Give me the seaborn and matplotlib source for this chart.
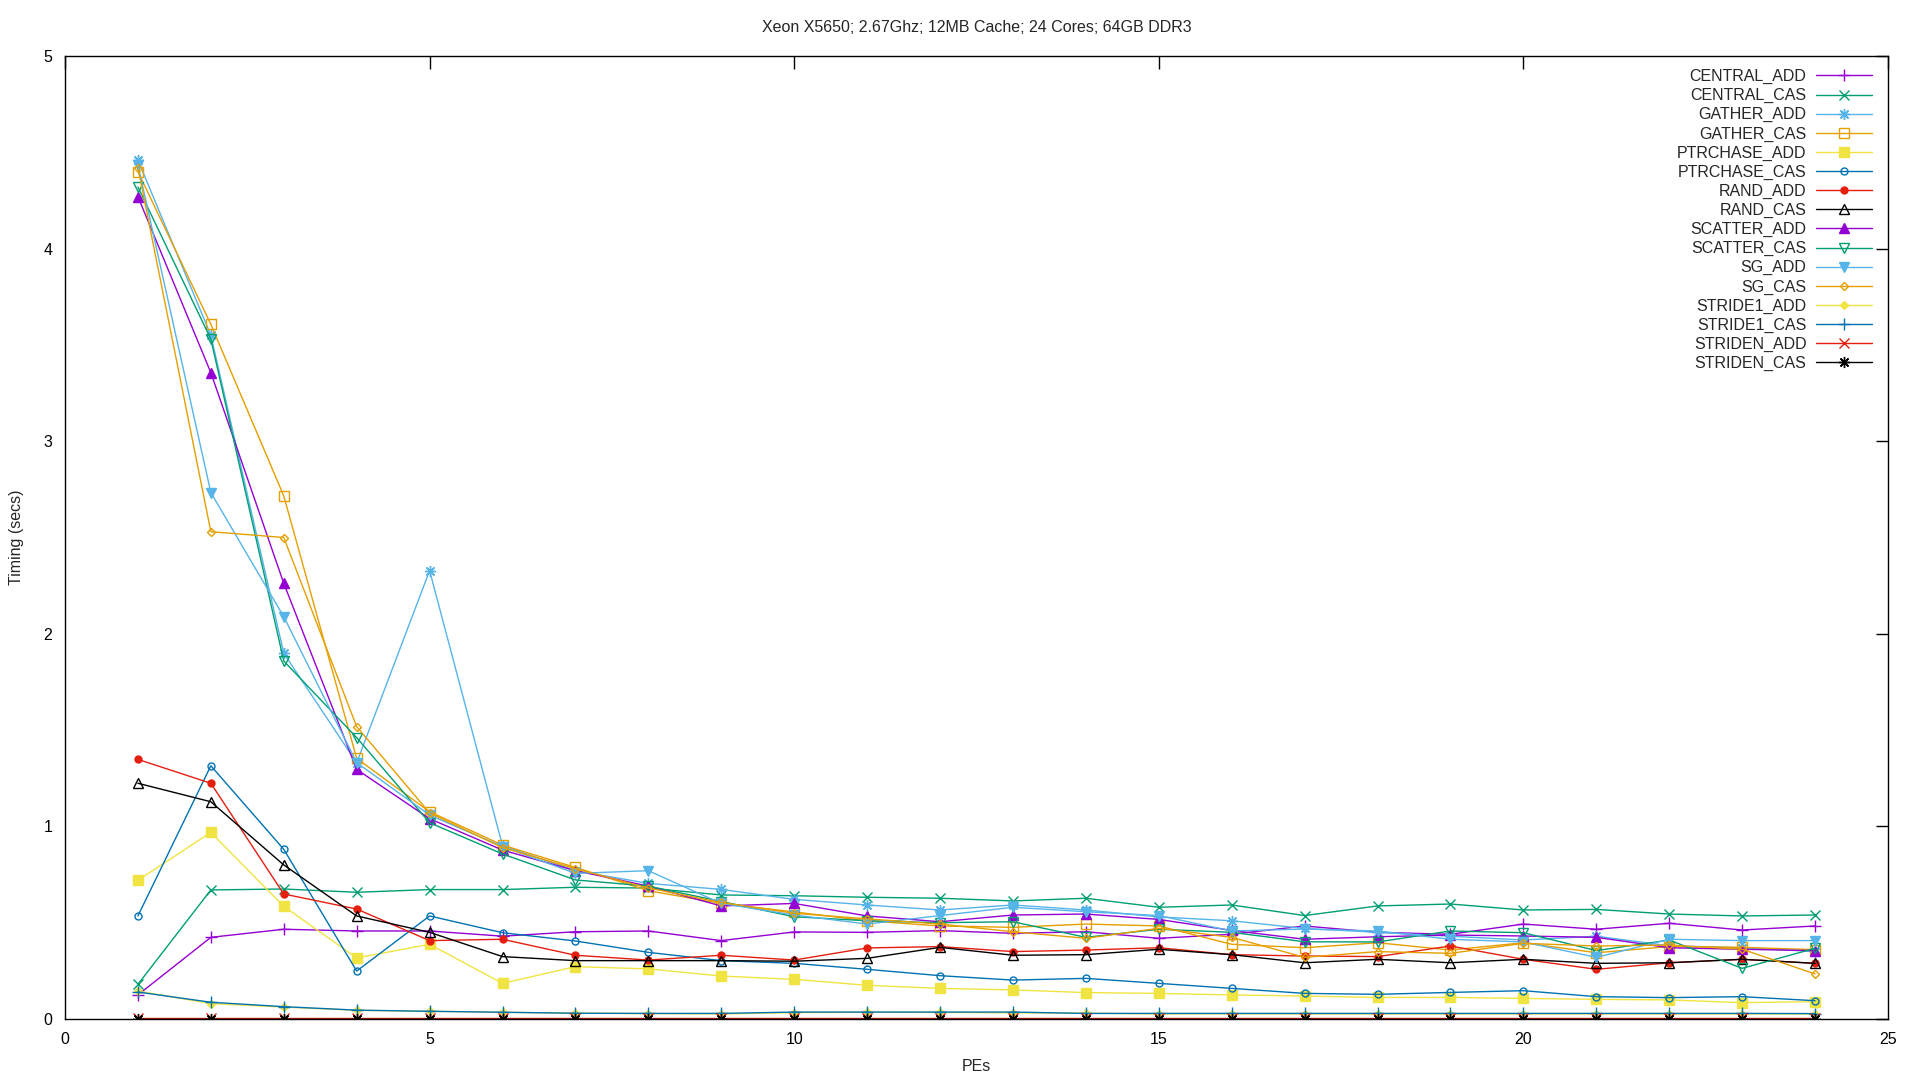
import matplotlib
matplotlib.use("Agg")
import matplotlib.pyplot as plt
import seaborn as sns
import numpy as np

sns.set_style("white")
plt.rcParams['font.family'] = ['Liberation Sans', 'DejaVu Sans']

pes = list(range(1, 25))

central_add = [0.125, 0.424, 0.466, 0.457, 0.457, 0.43, 0.453, 0.457, 0.407, 0.452, 0.45, 0.459,
               0.445, 0.453, 0.419, 0.44, 0.483, 0.45, 0.44, 0.493, 0.466, 0.497, 0.462, 0.483]
central_cas = [0.18, 0.67, 0.675, 0.658, 0.672, 0.672, 0.684, 0.68, 0.644, 0.64, 0.632, 0.627,
               0.613, 0.627, 0.58, 0.592, 0.537, 0.587, 0.597, 0.566, 0.569, 0.545, 0.535, 0.54]
gather_add = [4.46, 3.55, 1.899, 1.33, 2.328, 0.90, 0.77, 0.704, 0.673, 0.621, 0.592, 0.566,
              0.592, 0.566, 0.53, 0.51, 0.47, 0.45, 0.43, 0.41, 0.43, 0.38, 0.37, 0.35]
gather_cas = [4.40, 3.607, 2.716, 1.353, 1.076, 0.903, 0.787, 0.666, 0.60, 0.556, 0.51, 0.483,
              0.476, 0.493, 0.483, 0.388, 0.37, 0.396, 0.358, 0.396, 0.344, 0.376, 0.372, 0.36]
ptrchase_add = [0.72, 0.969, 0.585, 0.317, 0.388, 0.185, 0.272, 0.26, 0.223, 0.206, 0.175, 0.159,
                0.151, 0.137, 0.133, 0.125, 0.119, 0.112, 0.112, 0.107, 0.102, 0.099, 0.085, 0.09]
ptrchase_cas = [0.535, 1.315, 0.881, 0.249, 0.535, 0.448, 0.405, 0.346, 0.303, 0.289, 0.258, 0.225,
                0.202, 0.211, 0.185, 0.159, 0.133, 0.128, 0.138, 0.147, 0.116, 0.111, 0.116, 0.095]
rand_add = [1.348, 1.224, 0.649, 0.571, 0.407, 0.414, 0.331, 0.306, 0.331, 0.306, 0.369, 0.376,
            0.35, 0.358, 0.37, 0.334, 0.327, 0.324, 0.379, 0.31, 0.258, 0.292, 0.31, 0.289]
rand_cas = [1.224, 1.128, 0.80, 0.535, 0.45, 0.324, 0.303, 0.303, 0.303, 0.30, 0.315, 0.372,
            0.331, 0.334, 0.362, 0.334, 0.292, 0.31, 0.292, 0.31, 0.289, 0.292, 0.31, 0.289]
scatter_add = [4.27, 3.356, 2.262, 1.296, 1.04, 0.877, 0.77, 0.69, 0.587, 0.60, 0.535, 0.505,
               0.54, 0.545, 0.517, 0.46, 0.414, 0.427, 0.436, 0.431, 0.424, 0.37, 0.362, 0.355]
scatter_cas = [4.32, 3.53, 1.859, 1.461, 1.019, 0.857, 0.722, 0.69, 0.61, 0.531, 0.51, 0.50,
               0.505, 0.424, 0.466, 0.45, 0.401, 0.40, 0.457, 0.448, 0.355, 0.41, 0.263, 0.367]
sg_add = [4.434, 2.733, 2.089, 1.331, 1.059, 0.895, 0.756, 0.77, 0.60, 0.54, 0.493, 0.537,
          0.58, 0.557, 0.537, 0.457, 0.467, 0.457, 0.414, 0.40, 0.32, 0.414, 0.407, 0.407]
sg_cas = [4.42, 2.53, 2.50, 1.518, 1.07, 0.89, 0.78, 0.68, 0.605, 0.549, 0.52, 0.493,
          0.453, 0.419, 0.471, 0.424, 0.32, 0.35, 0.341, 0.393, 0.379, 0.384, 0.362, 0.234]
stride1_add = [0.145, 0.08, 0.062, 0.045, 0.04, 0.035, 0.03, 0.028, 0.026, 0.033, 0.035, 0.034,
               0.032, 0.03, 0.026, 0.027, 0.026, 0.026, 0.026, 0.026, 0.026, 0.026, 0.026, 0.026]
stride1_cas = [0.14, 0.087, 0.064, 0.046, 0.04, 0.035, 0.03, 0.029, 0.029, 0.036, 0.036, 0.036,
               0.036, 0.029, 0.029, 0.029, 0.029, 0.029, 0.029, 0.029, 0.029, 0.029, 0.029, 0.028]
striden_add = [0.003] * 24
striden_cas = [0.002] * 24

names = ["CENTRAL_ADD", "CENTRAL_CAS", "GATHER_ADD", "GATHER_CAS", "PTRCHASE_ADD", "PTRCHASE_CAS",
         "RAND_ADD", "RAND_CAS", "SCATTER_ADD", "SCATTER_CAS", "SG_ADD", "SG_CAS",
         "STRIDE1_ADD", "STRIDE1_CAS", "STRIDEN_ADD", "STRIDEN_CAS"]
series = [central_add, central_cas, gather_add, gather_cas, ptrchase_add, ptrchase_cas,
          rand_add, rand_cas, scatter_add, scatter_cas, sg_add, sg_cas,
          stride1_add, stride1_cas, striden_add, striden_cas]

purple, green, lblue, orange, yellow, blue, red, black = (
    '#9400D3', '#009E73', '#56B4E9', '#E69F00', '#F0E442', '#0072B2', '#E51E10', '#000000')
colors = [purple, green, lblue, orange, yellow, blue, red, black,
          purple, green, lblue, orange, yellow, blue, red, black]
star = (8, 2, 0)
styles = [('+', True, 8), ('x', True, 7), (star, True, 8), ('s', False, 7),
          ('s', True, 7), ('o', False, 5), ('o', True, 5), ('^', False, 7),
          ('^', True, 7), ('v', False, 7), ('v', True, 7), ('D', False, 4.5),
          ('D', True, 4.5), ('+', True, 8), ('x', True, 7), (star, True, 8)]

fig = plt.figure(figsize=(19.2, 10.8), dpi=100)
ax = fig.add_axes([65 / 1920, 1 - 1019 / 1080, (1888 - 65) / 1920, (1019 - 56) / 1080])

for name, vals, col, (mk, filled, ms) in zip(names, series, colors, styles):
    kw = dict(marker=mk, markersize=ms, markeredgewidth=1.0, markeredgecolor=col)
    kw['markerfacecolor'] = col if filled else 'none'
    sns.lineplot(x=pes, y=vals, color=col, linewidth=1.0, label=name, ax=ax, **kw)

ax.set_xlim(0, 25)
ax.set_ylim(0, 5)
ax.set_xticks([0, 5, 10, 15, 20, 25])
ax.set_yticks([0, 1, 2, 3, 4, 5])
ax.tick_params(direction='in', length=9, width=1, top=True, right=True,
               labelsize=11.5, pad=9, colors='black')
for sp in ax.spines.values():
    sp.set_color('black')
    sp.set_linewidth(1)
    sp.set_visible(True)

ax.set_xlabel("PEs", fontsize=11.5, labelpad=9)
ax.set_ylabel("Timing (secs)", fontsize=11.5, labelpad=14)
ax.set_title("Xeon X5650; 2.67Ghz; 12MB Cache; 24 Cores; 64GB DDR3", fontsize=11.5, pad=17)

ax.legend(loc='upper right', bbox_to_anchor=(1872 / 1920, 1 - 69 / 1080),
          bbox_transform=fig.transFigure, frameon=False, markerfirst=False,
          fontsize=11.5, handlelength=3.5, handletextpad=0.6, labelspacing=0.25,
          borderpad=0, borderaxespad=0)

fig.savefig("out.png", dpi=100)
